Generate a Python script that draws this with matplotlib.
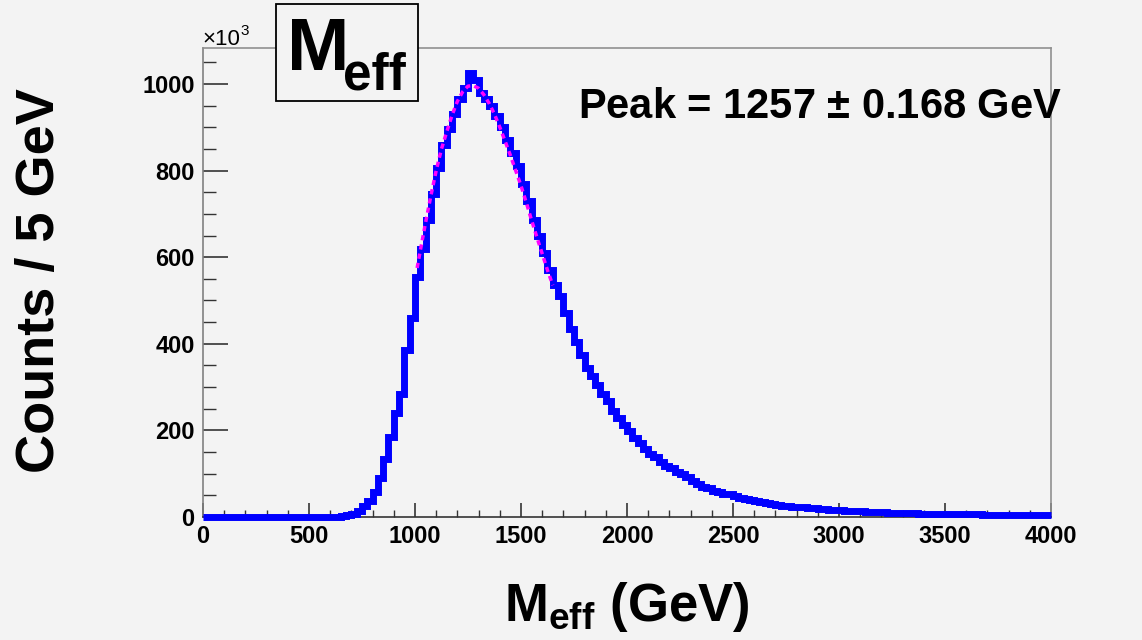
import numpy as np
import matplotlib
matplotlib.use("Agg")
import matplotlib.pyplot as plt
from matplotlib.ticker import MultipleLocator
from matplotlib.patches import Rectangle

plt.rcParams['font.family'] = ['Liberation Sans', 'DejaVu Sans']
plt.rcParams['mathtext.fontset'] = 'custom'
plt.rcParams['mathtext.rm'] = 'Liberation Sans:bold'
plt.rcParams['mathtext.bf'] = 'Liberation Sans:bold'
plt.rcParams['mathtext.it'] = 'Liberation Sans:bold'

# Meff histogram, 25 GeV bins from 0 to 4000 (counts in units of 10^3)
bin_width = 25
counts = [
    0, 0, 0, 0, 0, 0, 0, 0, 0, 0, 0, 0, 0, 0, 0, 0, 0, 0, 0, 0,
    0, 0, 0, 0, 0, 1, 2, 4, 8, 15, 25, 38, 58, 90, 135, 185, 240, 285, 385, 460,
    555, 620, 685, 745, 805, 860, 895, 930, 965, 990, 1025, 1010, 980, 965, 950, 925, 900, 870, 840, 810,
    770, 730, 685, 650, 610, 570, 535, 510, 470, 435, 405, 375, 345, 325, 305, 285, 268, 245, 228, 212,
    198, 182, 172, 158, 146, 138, 128, 118, 112, 104, 100, 92, 84, 76, 70, 66, 60, 57, 54, 52,
    49, 45, 42, 39, 36, 34, 32, 30, 28, 26, 25, 24, 23, 22, 21, 20, 19, 18, 17, 16,
    16, 15, 14, 14, 13, 12, 12, 11, 11, 10, 10, 10, 9, 9, 9, 8, 8, 8, 7, 7,
    7, 7, 6, 6, 6, 6, 6, 5, 5, 5, 5, 5, 5, 4, 4, 4, 4, 4, 4, 4,
]
edges = np.arange(len(counts) + 1) * bin_width

# fitted curve around the peak
fit_x = [1010, 1025, 1050, 1075, 1100, 1125, 1150, 1175, 1200, 1225, 1250, 1275, 1300,
         1325, 1350, 1375, 1400, 1425, 1450, 1475, 1500, 1525, 1550, 1575, 1600, 1625, 1650]
fit_y = [575, 615, 680, 742, 800, 850, 890, 928, 960, 982, 995, 996, 990,
         975, 955, 930, 900, 868, 835, 800, 765, 726, 685, 646, 608, 570, 535]

bg = '#f3f3f3'
W, H = 1142, 640
fig = plt.figure(figsize=(W / 100, H / 100), dpi=100, facecolor=bg)
ax = fig.add_axes([203/W, 1 - 517/H, (1051-203)/W, (517-48)/H], facecolor=bg)

ax.stairs(counts, edges, baseline=None, color='#0000ff', lw=5, clip_on=False, zorder=3)
ax.plot(fit_x, fit_y, color='#ff00ff', lw=2.5, ls=(0, (1.5, 1.2)), zorder=4)

ax.set_xlim(0, 4000)
ax.set_ylim(0, 1083)

ax.xaxis.set_major_locator(MultipleLocator(500))
ax.xaxis.set_minor_locator(MultipleLocator(100))
ax.yaxis.set_major_locator(MultipleLocator(200))
ax.yaxis.set_minor_locator(MultipleLocator(50))

ax.tick_params(axis='both', which='both', direction='in', colors='#333333',
               labelcolor='black', top=False, right=False)
ax.tick_params(axis='x', which='major', length=10, width=1.2, pad=6, labelsize=17)
ax.tick_params(axis='x', which='minor', length=5, width=1.0)
ax.tick_params(axis='y', which='major', length=18, width=1.2, pad=6, labelsize=17)
ax.tick_params(axis='y', which='minor', length=9, width=1.0)
for lbl in ax.get_xticklabels() + ax.get_yticklabels():
    lbl.set_fontweight('bold')

ax.spines['left'].set_color('#808080')
ax.spines['bottom'].set_color('#333333')
ax.spines['top'].set_color('#909090')
ax.spines['right'].set_color('#909090')
for s in ax.spines.values():
    s.set_linewidth(1.2)

# axis titles
fig.text(15/W, 1 - 281/H, 'Counts / 5 GeV', rotation=90, fontsize=39,
         fontweight='bold', ha='left', va='center')
fig.text(627/W, 1 - 607/H, r'$\mathregular{M_{eff}}$ (GeV)', fontsize=38,
         fontweight='bold', ha='center', va='center')
# exponent label
fig.text(202/W, 1 - 45/H, '×10', fontsize=16, ha='left', va='baseline')
fig.text(240/W, 1 - 35/H, '3', fontsize=11, ha='left', va='baseline')

# title box
fig.patches.append(Rectangle((276/W, 1 - 101/H), (418-276)/W, 97/H, transform=fig.transFigure,
                             facecolor=bg, edgecolor='black', lw=1.3, zorder=5))
fig.text(287/W, 1 - 70/H, 'M', fontsize=54, fontweight='bold', ha='left', va='baseline', zorder=6)
fig.text(343/W, 1 - 90/H, 'eff', fontsize=37, fontweight='bold', ha='left', va='baseline', zorder=6)

fig.text(578/W, 1 - 107/H, 'Peak = 1257 $\\pm$ 0.168 GeV', fontsize=30,
         fontweight='bold', ha='left', va='center')

fig.savefig('out.png', dpi=100, facecolor=bg)
